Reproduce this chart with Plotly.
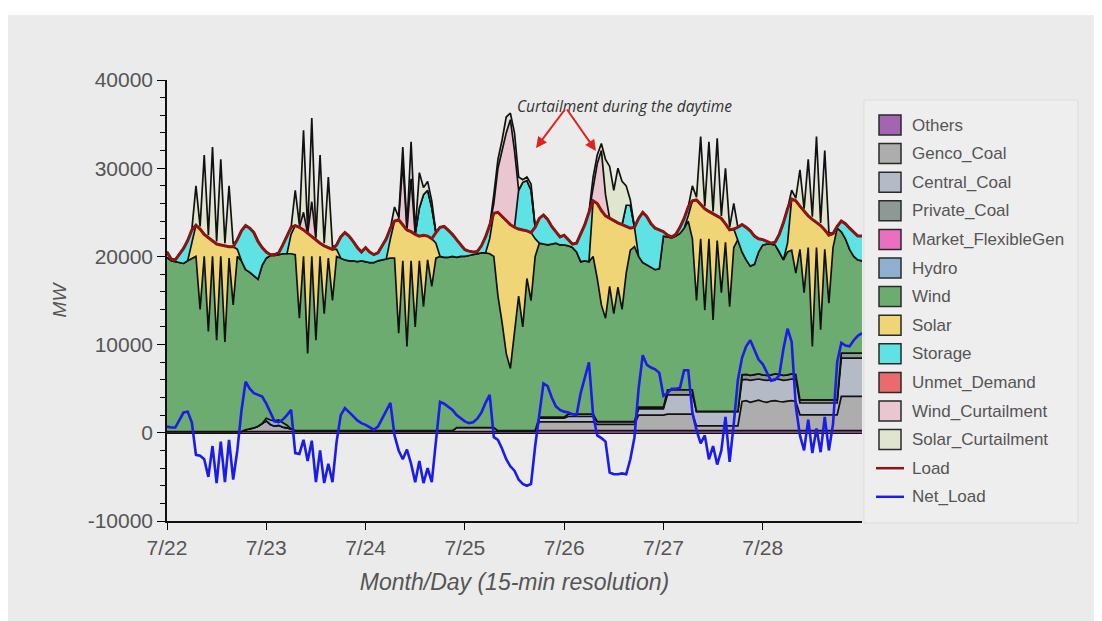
import numpy as np
import pandas as pd
import plotly.graph_objects as go

# ---------------- data (hourly, 7/22 00:00 .. 7/29 00:00) ----------------
times = pd.date_range("2019-07-22 00:00", periods=169, freq="h")

tick_dates = ["2019-07-22", "2019-07-23", "2019-07-24", "2019-07-25",
              "2019-07-26", "2019-07-27", "2019-07-28"]
tick_text = ["7/22", "7/23", "7/24", "7/25", "7/26", "7/27", "7/28"]
y_tick_vals = [-10000, 0, 10000, 20000, 30000, 40000]
y_tick_text = ["-10000", "0", "10000", "20000", "30000", "40000"]

load = [
    20500, 19700, 19600, 20200, 20900, 21800, 23000, 23550, 23100, 22500, 22100, 21700, 21400, 21300, 21200, 21100, 21100, 21900, 22900, 23500, 23200, 22700, 21700, 21000,
    20500, 20200, 20200, 20400, 21300, 22300, 23300, 23500, 23300, 23000, 22600, 22200, 21900, 21500, 21200, 21000, 20800, 21300, 22200, 22700, 22300, 21700, 21000, 20500,
    21000, 20500, 20200, 20400, 21200, 22000, 23200, 24000, 24150, 23600, 23000, 22800, 22500, 22300, 22400, 22300, 22000, 22700, 23300, 23400, 23000, 22500, 21900, 21300,
    20750, 20600, 20500, 20550, 21200, 22200, 23500, 24900, 25000, 24500, 24000, 23600, 23300, 23100, 23000, 22900, 22700, 23300, 24300, 24700, 24200, 23400, 22800, 22200,
    22400, 21900, 21400, 21500, 22500, 23600, 25000, 26300, 26000, 25200, 24600, 24300, 24000, 23800, 23600, 23400, 23200, 23300, 24300, 25000, 24500, 23700, 23200, 23000,
    22800, 22400, 22200, 22500, 23300, 24300, 25600, 26300, 26400, 25900, 25400, 25100, 24800, 24600, 24300, 23700, 23000, 23100, 23300, 23600, 23300, 22900, 22300, 22000,
    21900, 21700, 21500, 21600, 22500, 23800, 25400, 26500, 26300, 25700, 25100, 24600, 24200, 23900, 23500, 23000, 22400, 22600, 23400, 24000, 23700, 23200, 22700, 22300,
    22300]

net_load = [
    700, 600, 600, 1500, 2300, 2400, 1200, -2500, -2600, -3000, -5000, -1500, -5700, -1000, -5600, -800, -5300, -2000, 2500, 5800, 5000, 4500, 4300, 4100,
    3300, 2300, 1300, 1200, 1500, 2000, 2600, -2300, -2400, -800, -3200, -900, -5600, -2000, -5700, -3500, -5600, -1000, 2000, 2800, 2400, 1900, 1400, 1100,
    900, 600, 350, 700, 1600, 2600, 3400, -300, -2000, -3000, -1900, -3500, -5600, -3200, -5700, -4000, -5600, -1000, 3500, 3300, 3000, 2600, 2000, 1600,
    1300, 1100, 1200, 1600, 2300, 3400, 4300, -500, -800, -1800, -3000, -3800, -4300, -5300, -5800, -6000, -5800, -1500, 2000, 5600, 5300, 4000, 3000, 2600,
    2400, 2300, 2100, 2000, 4500, 6300, 8000, 2000, -300, -600, -1000, -4500, -4700, -4700, -4600, -4700, -3000, -500, 5000, 8800, 7700, 7400, 7200, 6800,
    4200, 4500, 5000, 5000, 5100, 7100, 7100, 2300, 300, -1200, -300, -3000, -1500, -3600, -2000, 1800, -3300, 1000, 6000, 8500, 9800, 10500, 9500, 8300,
    7800, 6800, 5900, 6000, 6500, 9500, 11800, 10300, 3000, -300, -2000, 1500, -2300, 500, -2200, 1800, -2000, 1000, 8000, 10200, 9900, 9800, 10500, 11000,
    11300]

others = [
    150, 150, 150, 150, 150, 150, 150, 150, 150, 150, 150, 150, 150, 150, 150, 150, 150, 150, 150, 150, 150, 150, 150, 150,
    150, 150, 150, 150, 150, 150, 150, 150, 150, 150, 150, 150, 150, 150, 150, 150, 150, 150, 150, 150, 150, 150, 150, 150,
    150, 150, 150, 150, 150, 150, 150, 150, 150, 150, 150, 150, 150, 150, 150, 150, 150, 150, 150, 150, 150, 150, 150, 150,
    150, 150, 150, 150, 150, 150, 150, 150, 150, 150, 150, 150, 150, 150, 150, 150, 150, 150, 250, 250, 250, 250, 250, 250,
    250, 250, 250, 250, 250, 250, 250, 250, 250, 250, 250, 250, 250, 250, 250, 250, 250, 250, 250, 250, 250, 250, 250, 250,
    250, 250, 250, 250, 250, 250, 250, 250, 250, 250, 250, 250, 250, 250, 250, 250, 250, 250, 250, 250, 250, 250, 250, 250,
    250, 250, 250, 250, 250, 250, 250, 250, 250, 250, 250, 250, 250, 250, 250, 250, 250, 250, 250, 250, 250, 250, 250, 250,
    250]

genco_coal = [
    0, 0, 0, 0, 0, 0, 0, 0, 0, 0, 0, 0, 0, 0, 0, 0, 0, 0, 0, 200, 300, 400, 600, 900,
    1200, 800, 600, 700, 500, 400, 300, 100, 100, 100, 100, 100, 100, 100, 100, 100, 100, 100, 100, 100, 100, 100, 100, 100,
    100, 100, 100, 100, 100, 100, 100, 100, 100, 100, 100, 100, 100, 100, 100, 100, 100, 100, 100, 100, 100, 100, 450, 450,
    450, 450, 450, 450, 450, 450, 450, 450, 100, 100, 100, 100, 100, 100, 100, 100, 100, 100, 1000, 1000, 1000, 1000, 1000, 1000,
    1000, 1000, 1000, 1000, 1000, 1000, 1000, 1000, 700, 700, 700, 700, 700, 700, 700, 700, 700, 700, 1760, 1760, 1760, 1760, 1760, 1760,
    1760, 1870, 1870, 1870, 1870, 1870, 1870, 1870, 540, 540, 540, 540, 540, 540, 540, 540, 540, 540, 540, 3300, 3400, 3200, 3350, 3450,
    3300, 3200, 3350, 3400, 3300, 3250, 3350, 3400, 3300, 1790, 1790, 1790, 1790, 1790, 1790, 1790, 1790, 1790, 1790, 3870, 3870, 3870, 3870, 3870,
    3870]

central_coal = [
    0, 0, 0, 0, 0, 0, 0, 0, 0, 0, 0, 0, 0, 0, 0, 0, 0, 0, 0, 0, 0, 0, 0, 0,
    0, 0, 0, 0, 0, 0, 0, 0, 0, 0, 0, 0, 0, 0, 0, 0, 0, 0, 0, 0, 0, 0, 0, 0,
    0, 0, 0, 0, 0, 0, 0, 0, 0, 0, 0, 0, 0, 0, 0, 0, 0, 0, 0, 0, 0, 0, 0, 0,
    0, 0, 0, 0, 0, 0, 0, 0, 0, 0, 0, 0, 0, 0, 0, 0, 0, 0, 400, 400, 400, 400, 400, 400,
    400, 600, 600, 600, 600, 600, 600, 600, 300, 300, 300, 300, 300, 300, 300, 300, 300, 300, 700, 700, 700, 700, 700, 700,
    700, 2190, 2190, 2190, 2190, 2190, 2190, 2190, 1610, 1610, 1610, 1610, 1610, 1610, 1610, 1610, 1610, 1610, 1610, 2460, 2400, 2500, 2450, 2400,
    2450, 2500, 2400, 2450, 2500, 2450, 2400, 2450, 2500, 1340, 1340, 1340, 1340, 1340, 1340, 1340, 1340, 1340, 1340, 4350, 4350, 4350, 4350, 4350,
    4350]

private_coal = [
    0, 0, 0, 0, 0, 0, 0, 0, 0, 0, 0, 0, 0, 0, 0, 0, 0, 0, 0, 0, 0, 0, 0, 0,
    0, 0, 0, 0, 0, 0, 0, 0, 0, 0, 0, 0, 0, 0, 0, 0, 0, 0, 0, 0, 0, 0, 0, 0,
    0, 0, 0, 0, 0, 0, 0, 0, 0, 0, 0, 0, 0, 0, 0, 0, 0, 0, 0, 0, 0, 0, 0, 0,
    0, 0, 0, 0, 0, 0, 0, 0, 0, 0, 0, 0, 0, 0, 0, 0, 0, 0, 130, 130, 130, 130, 130, 130,
    130, 270, 270, 270, 270, 270, 270, 270, 30, 30, 30, 30, 30, 30, 30, 30, 30, 30, 190, 190, 190, 190, 190, 190,
    190, 570, 570, 570, 570, 570, 570, 570, 20, 20, 20, 20, 20, 20, 20, 20, 20, 20, 20, 570, 570, 570, 570, 570,
    570, 570, 570, 570, 570, 570, 570, 570, 570, 360, 360, 360, 360, 360, 360, 360, 360, 360, 360, 560, 560, 560, 560, 560,
    560]

hydro = [
    0, 0, 0, 0, 0, 0, 0, 0, 0, 0, 0, 0, 0, 0, 0, 0, 0, 0, 0, 0, 0, 0, 0, 0,
    300, 500, 600, 600, 500, 300, 0, 0, 0, 0, 0, 0, 0, 0, 0, 0, 0, 0, 0, 0, 0, 0, 0, 0,
    0, 0, 0, 0, 0, 0, 0, 0, 0, 0, 0, 0, 0, 0, 0, 0, 0, 0, 0, 0, 0, 0, 0, 0,
    0, 0, 0, 0, 0, 0, 0, 0, 0, 0, 0, 0, 0, 0, 0, 0, 0, 0, 0, 0, 0, 0, 0, 0,
    0, 0, 0, 0, 0, 0, 0, 0, 0, 0, 0, 0, 0, 0, 0, 0, 0, 0, 0, 0, 0, 0, 0, 0,
    0, 0, 0, 0, 0, 0, 0, 0, 0, 0, 0, 0, 0, 0, 0, 0, 0, 0, 0, 0, 0, 0, 0, 0,
    0, 0, 0, 0, 0, 0, 0, 0, 0, 0, 0, 0, 0, 0, 0, 0, 0, 0, 0, 0, 0, 0, 0, 0,
    0]

# stack levels (top edge of each band, MW)
wind_top = [
    19900, 19500, 19400, 19300, 19200, 19500, 19800, 20000, 14000, 20000, 11500, 20000, 10500, 20000, 10300, 19800, 14500, 20000, 19500, 18500, 18200, 17800, 17400, 19000,
    19800, 20100, 20100, 20200, 20300, 20300, 20300, 20200, 13000, 20000, 9000, 20000, 10500, 20000, 13500, 19800, 15000, 20000, 19800, 19600, 19500, 19500, 19400, 19500,
    19400, 19300, 19300, 19500, 19600, 19700, 19800, 19800, 11300, 19500, 9800, 19500, 12000, 19500, 14300, 19600, 16600, 19800, 20000, 19900, 19900, 20000, 19900, 20000,
    20000, 20100, 20200, 20300, 20400, 20400, 20300, 20000, 15500, 12500, 9000, 7300, 11500, 15500, 12000, 17500, 15000, 20000, 21500, 21400, 21300, 21400, 21500, 21300,
    21300, 21200, 21000, 20500, 19400, 19500, 19400, 20000, 17500, 14500, 13000, 16600, 13500, 16500, 14000, 18100, 20700, 21100, 20000, 19300, 19000, 18700, 18500, 18600,
    22300, 22200, 22100, 22300, 22600, 23200, 24000, 22000, 15000, 22000, 13900, 22000, 12800, 21800, 15900, 21600, 14300, 21000, 21900, 20500, 19600, 18900, 19100, 20500,
    21300, 21400, 21400, 21300, 20500, 19600, 20500, 20700, 18100, 20800, 15900, 21000, 9800, 21000, 11700, 20800, 14700, 21000, 23200, 22800, 22000, 20800, 20000, 19600,
    19500]

solar_top = [
    19900, 19500, 19400, 19300, 19200, 19500, 21500, 23550, 23100, 22500, 22100, 21700, 21400, 21300, 21200, 21100, 21100, 20800, 19500, 18500, 18200, 17800, 17400, 19000,
    19800, 20100, 20100, 20200, 20300, 20300, 22500, 23500, 23300, 23000, 22600, 22200, 21900, 21500, 21200, 21000, 20800, 20800, 19800, 19600, 19500, 19500, 19400, 19500,
    19400, 19300, 19300, 19500, 19600, 19700, 22000, 24000, 24150, 23600, 23000, 22800, 22500, 22300, 22400, 22300, 22000, 21500, 20000, 19900, 19900, 20000, 19900, 20000,
    20000, 20100, 20200, 20300, 20400, 20400, 22000, 24900, 25000, 24500, 24000, 23600, 23300, 23100, 23000, 22900, 22700, 22000, 21500, 21400, 21300, 21400, 21500, 21300,
    21300, 21200, 21000, 20500, 19400, 19500, 19400, 26300, 26000, 25200, 24600, 24300, 24000, 23800, 23600, 23400, 23200, 23300, 20000, 19300, 19000, 18700, 18500, 18600,
    22300, 22200, 22100, 22300, 22600, 23200, 24600, 26300, 26400, 25900, 25400, 25100, 24800, 24600, 24300, 23700, 23000, 23100, 21900, 20500, 19600, 18900, 19100, 20500,
    21300, 21400, 21400, 21300, 20500, 19600, 21500, 26500, 26300, 25700, 25100, 24600, 24200, 23900, 23500, 23000, 22400, 22600, 23200, 22800, 22000, 20800, 20000, 19600,
    19500]

storage_top = [
    20500, 19700, 19600, 20200, 20900, 21800, 23000, 23550, 23100, 22500, 22100, 21700, 21400, 21300, 21200, 21100, 21100, 21900, 22900, 23500, 23200, 22700, 21700, 21000,
    20500, 20200, 20200, 20400, 21300, 22300, 23300, 23500, 23300, 23000, 22600, 22200, 21900, 21500, 21200, 21000, 20800, 21300, 22200, 22700, 22300, 21700, 21000, 20500,
    21000, 20500, 20200, 20400, 21200, 22000, 23200, 24000, 24150, 23600, 23000, 22800, 22500, 25500, 27000, 27500, 25500, 22700, 23300, 23400, 23000, 22500, 21900, 21300,
    20750, 20600, 20500, 20550, 21200, 22200, 23500, 24900, 25000, 24500, 24000, 23600, 23300, 27500, 28400, 28600, 27500, 23300, 24300, 24700, 24200, 23400, 22800, 22200,
    22400, 21900, 21400, 21500, 22500, 23600, 25000, 26300, 26000, 25200, 24600, 24300, 24000, 23800, 23600, 25800, 25800, 23300, 24300, 25000, 24500, 23700, 23200, 23000,
    22800, 22400, 22200, 22500, 23300, 24300, 25600, 26300, 26400, 25900, 25400, 25100, 24800, 24600, 24300, 23700, 23000, 23100, 23300, 23600, 23300, 22900, 22300, 22000,
    21900, 21700, 21500, 21600, 22500, 23800, 25400, 26500, 26300, 25700, 25100, 24600, 24200, 23900, 23500, 23000, 22400, 22600, 23400, 24000, 23700, 23200, 22700, 22300,
    22300]

curtailment_top = [
    20500, 19700, 19600, 20200, 20900, 21800, 23000, 28000, 23400, 31500, 22400, 32400, 21700, 31000, 21500, 28000, 21400, 21900, 22900, 23500, 23200, 22700, 21700, 21000,
    20500, 20200, 20200, 20400, 21300, 22300, 23300, 27500, 23600, 34300, 22900, 35700, 22200, 31500, 21500, 29000, 21100, 21300, 22200, 22700, 22300, 21700, 21000, 20500,
    21000, 20500, 20200, 20400, 21200, 22000, 23200, 25600, 24450, 32400, 23300, 33000, 22800, 29500, 27800, 28500, 26300, 22700, 23300, 23400, 23000, 22500, 21900, 21300,
    20750, 20600, 20500, 20550, 21200, 22200, 23500, 27000, 31000, 33200, 35800, 36250, 34000, 29000, 28700, 29000, 28200, 23300, 24300, 24700, 24200, 23400, 22800, 22200,
    22400, 21900, 21400, 21500, 22500, 23600, 25000, 29000, 31500, 32800, 31000, 30200, 27500, 30000, 28500, 28000, 26400, 23300, 24300, 25000, 24500, 23700, 23200, 23000,
    22800, 22400, 22200, 22500, 23300, 24300, 25600, 28000, 26700, 33600, 25700, 33000, 25100, 33400, 24600, 30000, 23300, 26000, 23300, 23600, 23300, 22900, 22300, 22000,
    21900, 21700, 21500, 21600, 22500, 23800, 25400, 27500, 26600, 29800, 25400, 31000, 24500, 33600, 23800, 32000, 22700, 22600, 23400, 24000, 23700, 23200, 22700, 22300,
    22300]

wind_curtailment = [
    0, 0, 0, 0, 0, 0, 0, 0, 0, 0, 0, 0, 0, 0, 0, 0, 0, 0, 0, 0, 0, 0, 0, 0,
    0, 0, 0, 0, 0, 0, 0, 0, 0, 2000, 0, 4000, 0, 0, 0, 0, 0, 0, 0, 0, 0, 0, 0, 0,
    0, 0, 0, 0, 0, 0, 0, 0, 0, 7000, 0, 6000, 0, 0, 0, 0, 0, 0, 0, 0, 0, 0, 0, 0,
    0, 0, 0, 0, 0, 0, 0, 1100, 5000, 7500, 10000, 11900, 8700, 0, 0, 0, 0, 0, 0, 0, 0, 0, 0, 0,
    0, 0, 0, 0, 0, 0, 0, 1700, 4500, 6800, 2400, 0, 0, 0, 0, 0, 0, 0, 0, 0, 0, 0, 0, 0,
    0, 0, 0, 0, 0, 0, 0, 0, 0, 0, 0, 0, 0, 0, 0, 0, 0, 0, 0, 0, 0, 0, 0, 0,
    0, 0, 0, 0, 0, 0, 0, 0, 0, 0, 0, 0, 0, 0, 0, 0, 0, 0, 0, 0, 0, 0, 0, 0,
    0]

# ---------------- derive stacked components ----------------
A = lambda v: np.asarray(v, dtype=float)
base = A(others) + A(genco_coal) + A(central_coal) + A(private_coal) + A(hydro)
wind = np.clip(A(wind_top) - base, 0, None)
solar = np.clip(A(solar_top) - A(wind_top), 0, None)
storage = np.clip(A(storage_top) - A(solar_top), 0, None)
wind_curt = A(wind_curtailment)
solar_curt = np.clip(A(curtailment_top) - A(storage_top) - wind_curt, 0, None)

colors = {
    "Others": "#a564b1",
    "Genco_Coal": "#adadad",
    "Central_Coal": "#b5bac7",
    "Private_Coal": "#8d9995",
    "Market_FlexibleGen": "#ea6fc0",
    "Hydro": "#8fb0d2",
    "Wind": "#6cac70",
    "Solar": "#f0d577",
    "Storage": "#5fe2e4",
    "Unmet_Demand": "#ea6b6b",
    "Wind_Curtailment": "#eac6d1",
    "Solar_Curtailment": "#dfe5cf",
    "Load": "#8b1515",
    "Net_Load": "#1c1ce8",
}

stack = [
    ("Others", A(others)),
    ("Genco_Coal", A(genco_coal)),
    ("Central_Coal", A(central_coal)),
    ("Private_Coal", A(private_coal)),
    ("Hydro", A(hydro)),
    ("Wind", wind),
    ("Solar", solar),
    ("Storage", storage),
    ("Wind_Curtailment", wind_curt),
    ("Solar_Curtailment", solar_curt),
]

fig = go.Figure()
for name, vals in stack:
    fig.add_trace(go.Scatter(
        x=times, y=vals, name=name, stackgroup="gen", mode="lines",
        line=dict(color="#111111", width=1.7), fillcolor=colors[name],
        showlegend=False, hoverinfo="skip"))

fig.add_trace(go.Scatter(x=times, y=load, name="Load", mode="lines",
                         line=dict(color=colors["Load"], width=3), showlegend=False))
fig.add_trace(go.Scatter(x=times, y=net_load, name="Net_Load", mode="lines",
                         line=dict(color=colors["Net_Load"], width=2.6), showlegend=False))

# ---------------- layout ----------------
W, H = 1102, 621
L_M, R_M, T_M, B_M = 167, 240, 80, 100
pw, ph = W - L_M - R_M, H - T_M - B_M


def px(xp):
    return (xp - L_M) / pw


def py(yp):
    return (H - B_M - yp) / ph


shapes = [
    dict(type="rect", xref="paper", yref="paper", x0=px(8), x1=px(1094), y0=py(640), y1=py(15),
         fillcolor="#ebebeb", line=dict(width=0), layer="below"),
    dict(type="rect", xref="paper", yref="paper", x0=px(864), x1=px(1078), y0=py(523), y1=py(100),
         fillcolor="#eeeeee", line=dict(color="#dddddd", width=1), layer="below"),
]
annotations = []

legend_items = ["Others", "Genco_Coal", "Central_Coal", "Private_Coal", "Market_FlexibleGen",
                "Hydro", "Wind", "Solar", "Storage", "Unmet_Demand", "Wind_Curtailment",
                "Solar_Curtailment", "Load", "Net_Load"]
for i, name in enumerate(legend_items):
    cy = 125 + 28.6 * i
    if name in ("Load", "Net_Load"):
        shapes.append(dict(type="line", xref="paper", yref="paper", x0=px(876), x1=px(904),
                           y0=py(cy), y1=py(cy), line=dict(color=colors[name], width=2.5)))
    else:
        shapes.append(dict(type="rect", xref="paper", yref="paper", x0=px(879), x1=px(901),
                           y0=py(cy + 10), y1=py(cy - 10), fillcolor=colors[name],
                           line=dict(color="#2a2a2a", width=1.5)))
    annotations.append(dict(x=px(910), y=py(cy), xref="paper", yref="paper", text=name,
                            showarrow=False, xanchor="left", yanchor="middle",
                            font=dict(family="Liberation Sans, Arial", size=17, color="#555555")))

annotations.append(dict(x=px(624), y=py(93), xref="paper", yref="paper",
                        text="Curtailment during the daytime", showarrow=False,
                        font=dict(family="Open Sans", size=15.5, color="#333333", style="italic")))
for hx, hy in [(536, 148), (596, 151)]:
    annotations.append(dict(x=px(hx), y=py(hy), xref="paper", yref="paper", text="",
                            showarrow=True, arrowhead=2, arrowsize=1.1, arrowwidth=2,
                            arrowcolor="#e0231c", ax=566 - hx, ay=108 - hy))

tick_font = dict(family="Liberation Sans, Arial", size=21, color="#555555")
fig.update_layout(
    width=W, height=H, autosize=False,
    margin=dict(l=L_M, r=R_M, t=T_M, b=B_M),
    paper_bgcolor="white", plot_bgcolor="rgba(0,0,0,0)",
    showlegend=False, shapes=shapes, annotations=annotations,
    xaxis=dict(type="date", range=["2019-07-22 00:00", "2019-07-29 00:00"],
               tickvals=tick_dates, ticktext=tick_text, ticks="outside", ticklen=7,
               tickcolor="black", showline=True, linecolor="#111111", linewidth=1.5,
               showgrid=False, zeroline=False, tickfont=tick_font,
               title=dict(text="Month/Day (15-min resolution)", standoff=16,
                          font=dict(family="Liberation Sans, Arial", size=23,
                                    color="#555555", style="italic"))),
    yaxis=dict(range=[-10000, 40000], tickvals=y_tick_vals, ticktext=y_tick_text,
               ticks="outside", ticklen=8,
               tickcolor="black", showline=True, linecolor="#111111", linewidth=1.5,
               showgrid=False, zeroline=True, zerolinecolor="#111111", zerolinewidth=2,
               minor=dict(dtick=2000, ticks="outside", ticklen=5, tickcolor="black"),
               tickfont=tick_font,
               title=dict(text="MW", standoff=16,
                          font=dict(family="Liberation Sans, Arial", size=19,
                                    color="#555555", style="italic"))),
)

fig.write_html("out.html")
